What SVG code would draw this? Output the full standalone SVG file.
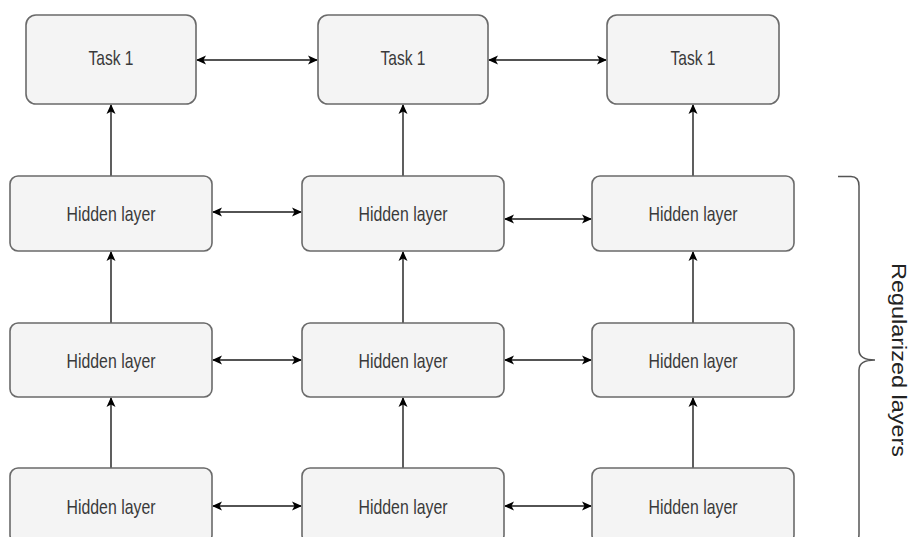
<svg xmlns="http://www.w3.org/2000/svg" width="912" height="537" viewBox="0 0 912 537">
  <style>
    .box { fill: #f4f4f4; stroke: #6a6a6a; stroke-width: 1.6; }
    .lbl { font-family: "Liberation Sans", Arial, sans-serif; font-size: 21px; fill: #3a3a3a; text-anchor: middle; }
    .edge { stroke: #1a1a1a; stroke-width: 1.4; fill: none; }
    .brace { stroke: #555; stroke-width: 1.5; fill: none; }
    .side { font-family: "Liberation Sans", Arial, sans-serif; font-size: 20px; fill: #222; text-anchor: middle; }
  </style>
  <defs>
    <marker id="arr" viewBox="0 0 10 10" refX="9" refY="5" markerWidth="10" markerHeight="10" markerUnits="userSpaceOnUse" orient="auto-start-reverse">
      <path d="M0,0.5 L10,5 L0,9.5 L2.5,5 Z" fill="#000"/>
    </marker>
  </defs>

  <rect width="912" height="537" fill="#fff"/>

  <!-- connectors -->
  <g id="connectors">
    <!-- vertical: layer to layer, layer to task -->
    <line class="edge" x1="111" y1="176" x2="111" y2="105" marker-end="url(#arr)"/>
    <line class="edge" x1="403" y1="176" x2="403" y2="105" marker-end="url(#arr)"/>
    <line class="edge" x1="693" y1="176" x2="693" y2="105" marker-end="url(#arr)"/>
    <line class="edge" x1="111" y1="323" x2="111" y2="252" marker-end="url(#arr)"/>
    <line class="edge" x1="403" y1="323" x2="403" y2="252" marker-end="url(#arr)"/>
    <line class="edge" x1="693" y1="323" x2="693" y2="252" marker-end="url(#arr)"/>
    <line class="edge" x1="111" y1="468" x2="111" y2="398" marker-end="url(#arr)"/>
    <line class="edge" x1="403" y1="468" x2="403" y2="398" marker-end="url(#arr)"/>
    <line class="edge" x1="693" y1="468" x2="693" y2="398" marker-end="url(#arr)"/>
    <!-- horizontal: bidirectional links -->
    <line class="edge" x1="197" y1="60" x2="317" y2="60" marker-start="url(#arr)" marker-end="url(#arr)"/>
    <line class="edge" x1="489" y1="60" x2="606" y2="60" marker-start="url(#arr)" marker-end="url(#arr)"/>
    <line class="edge" x1="213" y1="212" x2="301" y2="212" marker-start="url(#arr)" marker-end="url(#arr)"/>
    <line class="edge" x1="505" y1="219" x2="591" y2="219" marker-start="url(#arr)" marker-end="url(#arr)"/>
    <line class="edge" x1="213" y1="360" x2="301" y2="360" marker-start="url(#arr)" marker-end="url(#arr)"/>
    <line class="edge" x1="505" y1="360" x2="591" y2="360" marker-start="url(#arr)" marker-end="url(#arr)"/>
    <line class="edge" x1="213" y1="506" x2="301" y2="506" marker-start="url(#arr)" marker-end="url(#arr)"/>
    <line class="edge" x1="505" y1="506" x2="591" y2="506" marker-start="url(#arr)" marker-end="url(#arr)"/>
  </g>

  <!-- task heads -->
  <g id="task-a"><rect class="box" x="26" y="15" width="170" height="89" rx="10"/><text class="lbl" x="111" y="65" textLength="45" lengthAdjust="spacingAndGlyphs">Task 1</text></g>
  <g id="task-b"><rect class="box" x="318" y="15" width="170" height="89" rx="10"/><text class="lbl" x="403" y="65" textLength="45" lengthAdjust="spacingAndGlyphs">Task 1</text></g>
  <g id="task-c"><rect class="box" x="607" y="15" width="172" height="89" rx="10"/><text class="lbl" x="693" y="65" textLength="45" lengthAdjust="spacingAndGlyphs">Task 1</text></g>

  <!-- hidden layers, top row -->
  <g id="h1-a"><rect class="box" x="10" y="176" width="202" height="75" rx="8"/><text class="lbl" x="111" y="221" textLength="89" lengthAdjust="spacingAndGlyphs">Hidden layer</text></g>
  <g id="h1-b"><rect class="box" x="302" y="176" width="202" height="75" rx="8"/><text class="lbl" x="403" y="221" textLength="89" lengthAdjust="spacingAndGlyphs">Hidden layer</text></g>
  <g id="h1-c"><rect class="box" x="592" y="176" width="202" height="75" rx="8"/><text class="lbl" x="693" y="221" textLength="89" lengthAdjust="spacingAndGlyphs">Hidden layer</text></g>

  <!-- hidden layers, middle row -->
  <g id="h2-a"><rect class="box" x="10" y="323" width="202" height="74" rx="8"/><text class="lbl" x="111" y="368" textLength="89" lengthAdjust="spacingAndGlyphs">Hidden layer</text></g>
  <g id="h2-b"><rect class="box" x="302" y="323" width="202" height="74" rx="8"/><text class="lbl" x="403" y="368" textLength="89" lengthAdjust="spacingAndGlyphs">Hidden layer</text></g>
  <g id="h2-c"><rect class="box" x="592" y="323" width="202" height="74" rx="8"/><text class="lbl" x="693" y="368" textLength="89" lengthAdjust="spacingAndGlyphs">Hidden layer</text></g>

  <!-- hidden layers, bottom row -->
  <g id="h3-a"><rect class="box" x="10" y="468" width="202" height="75" rx="8"/><text class="lbl" x="111" y="514" textLength="89" lengthAdjust="spacingAndGlyphs">Hidden layer</text></g>
  <g id="h3-b"><rect class="box" x="302" y="468" width="202" height="75" rx="8"/><text class="lbl" x="403" y="514" textLength="89" lengthAdjust="spacingAndGlyphs">Hidden layer</text></g>
  <g id="h3-c"><rect class="box" x="592" y="468" width="202" height="75" rx="8"/><text class="lbl" x="693" y="514" textLength="89" lengthAdjust="spacingAndGlyphs">Hidden layer</text></g>

  <!-- curly brace spanning the regularized layers -->
  <g id="brace">
    <path class="brace" d="M838,176.5 L851,176.5 Q859,176.5 859,186 L859,350 Q859,360 875,360 Q859,360 859,370 L859,534 Q859,544 851,544 L838,544"/>
    <text class="side" transform="translate(892,360) rotate(90)" x="0" y="0" textLength="194" lengthAdjust="spacingAndGlyphs">Regularized layers</text>
  </g>
</svg>
